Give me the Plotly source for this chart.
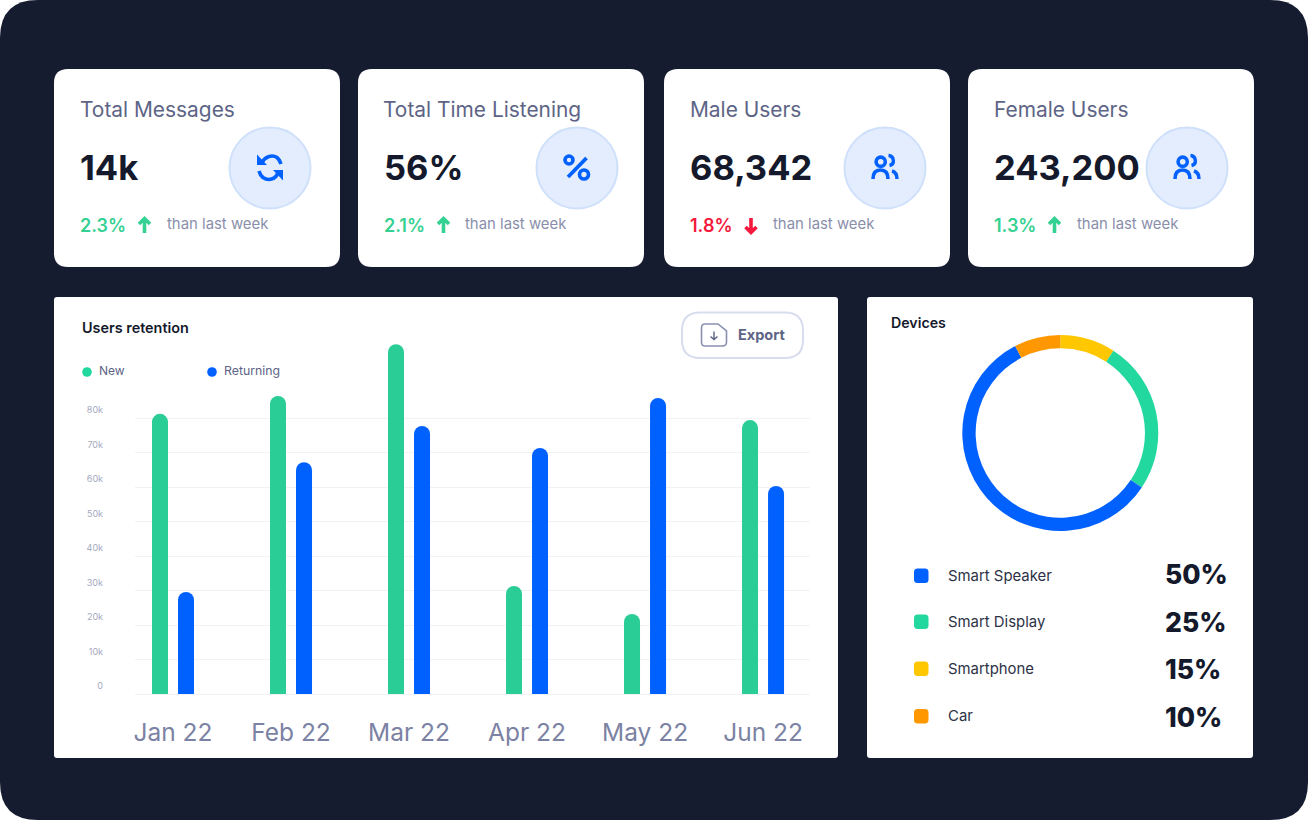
import re
import plotly.graph_objects as go

W, H = 1308, 820
FONT = "Inter"

# chart data
months = ["Jan 22", "Feb 22", "Mar 22", "Apr 22", "May 22", "Jun 22"]
new_users = [81200, 86400, 101400, 31300, 23200, 79400]
returning_users = [29600, 67200, 77700, 71300, 85800, 60300]
y_ticks = [0, 10000, 20000, 30000, 40000, 50000, 60000, 70000, 80000]
y_labels = ["0", "10k", "20k", "30k", "40k", "50k", "60k", "70k", "80k"]

device_names = ["Smart Speaker", "Smart Display", "Smartphone", "Car"]
device_share = ["50%", "25%", "15%", "10%"]
ring_names = ["Smartphone", "Smart Display", "Smart Speaker", "Car"]
ring_values = [9.1, 25.2, 57.9, 7.6]

card_titles = ["Total Messages", "Total Time Listening", "Male Users", "Female Users"]
card_values = ["14k", "56%", "68,342", "243,200"]
card_deltas = ["2.3%", "2.1%", "1.8%", "1.3%"]
card_up = [True, True, False, True]

# colours
DARK = "#161c2f"
INK = "#14192b"
GREEN = "#2bcd97"
RING_GREEN = "#22d89e"
BLUE = "#0061ff"
YELLOW = "#ffc700"
ORANGE = "#ff9800"
RED = "#f5173c"
DELTA_GREEN = "#35d192"
device_colors = [BLUE, RING_GREEN, YELLOW, ORANGE]
ring_colors = [YELLOW, RING_GREEN, BLUE, ORANGE]

# card layout, pixels
card_left = [54, 358, 664, 968]
icon_x = [270, 577, 885, 1187]
arrow_x = [144.5, 443.5, 751, 1054.5]
week_x = [167, 465, 773, 1077]
icon_kind = ["refresh", "percent", "people", "people"]
row_y = [575.5, 621.5, 668.5, 716]
share_y = [574, 622, 669, 716.5]


def fx(x):
    return x / W


def fy(y):
    return 1 - y / H


def to_paper(path, dx=0, dy=0):
    # path is written in pixels from the top left, shapes want paper coordinates
    nums = iter(range(10**6))

    def conv(m):
        v = float(m.group())
        if next(nums) % 2 == 0:
            return f"{fx(v + dx):.6f}"
        return f"{fy(v + dy):.6f}"

    return re.sub(r"-?\d+\.?\d*", conv, path)


def add_path(path, dx=0, dy=0, color=None, fill=None, width=0):
    fig.add_shape(
        type="path", xref="paper", yref="paper", path=to_paper(path, dx, dy),
        line=dict(color=color or "rgba(0,0,0,0)", width=width),
        fillcolor=fill or "rgba(0,0,0,0)", layer="below",
    )


def round_rect(x0, y0, x1, y1, r, fill, color=None, width=0):
    p = (f"M {x0 + r} {y0} L {x1 - r} {y0} Q {x1} {y0} {x1} {y0 + r} "
         f"L {x1} {y1 - r} Q {x1} {y1} {x1 - r} {y1} L {x0 + r} {y1} "
         f"Q {x0} {y1} {x0} {y1 - r} L {x0} {y0 + r} Q {x0} {y0} {x0 + r} {y0} Z")
    add_path(p, fill=fill, color=color, width=width)


def circle(cx, cy, r, fill, color=None, width=0):
    fig.add_shape(
        type="circle", xref="paper", yref="paper",
        x0=fx(cx - r), x1=fx(cx + r), y0=fy(cy + r), y1=fy(cy - r),
        fillcolor=fill, line=dict(color=color or "rgba(0,0,0,0)", width=width),
        layer="below",
    )


def label(x, y, text, size, color, weight=400, anchor="left"):
    fig.add_annotation(
        xref="paper", yref="paper", x=fx(x), y=fy(y), text=text, showarrow=False,
        xanchor=anchor, yanchor="middle", borderpad=0, borderwidth=0,
        font=dict(family=FONT, size=size, color=color, weight=weight),
    )


fig = go.Figure()

fig.add_trace(go.Bar(x=months, y=new_users, name="New", marker_color=GREEN, marker_line_width=0))
fig.add_trace(go.Bar(x=months, y=returning_users, name="Returning", marker_color=BLUE, marker_line_width=0))
fig.add_trace(go.Pie(
    labels=ring_names, values=ring_values, sort=False, direction="clockwise", rotation=0,
    hole=0.864, textinfo="none", marker=dict(colors=ring_colors, line=dict(width=0)),
    domain=dict(x=[fx(962.3), fx(1158.3)], y=[fy(531), fy(335)]),
    showlegend=False,
))

# backgrounds
round_rect(0, 0, W, H, 38, DARK)
for left in card_left:
    round_rect(left, 69, left + 286, 267, 14, "white")
round_rect(54, 297, 838, 758, 3, "white")
round_rect(867, 297, 1253, 758, 3, "white")

# stat cards
for i, title in enumerate(card_titles):
    left = card_left[i] + 26
    label(left - 0.5, 109, title, 20.9, "#5d6486")
    label(left, 168, card_values[i], 34.5, INK, 700)
    tone = DELTA_GREEN if card_up[i] else RED
    label(left, 225, card_deltas[i], 18, tone, 600)
    label(week_x[i], 223.5, "than last week", 14.9, "#8a8fab")

    ax = arrow_x[i]
    if card_up[i]:
        add_path(f"M {ax} 233 L {ax} 219 M {ax - 5.5} 224 L {ax} 218.5 L {ax + 5.5} 224", color=tone, width=3.6)
    else:
        add_path(f"M {ax} 218 L {ax} 232 M {ax - 5.5} 227 L {ax} 232.5 L {ax + 5.5} 227", color=tone, width=3.6)

    cx = icon_x[i]
    circle(cx, 168, 40.5, "#e3edfd", "#cfe0fb", 2)
    kind = icon_kind[i]
    if kind == "refresh":
        add_path("M 262 163 C 264 157 272 154 277 157.5 Q 280 160 281 164", color=BLUE, width=3.6)
        add_path("M 259 171 Q 260 175 263 177.5 C 268 181 276 180 278 172", color=BLUE, width=3.6)
        add_path("M 257 154.5 L 257 165 L 267 165 Z", fill=BLUE)
        add_path("M 283 180.5 L 283 170 L 273 170 Z", fill=BLUE)
    elif kind == "percent":
        circle(569, 160, 4, "rgba(0,0,0,0)", BLUE, 3.6)
        circle(584, 174.5, 4.5, "rgba(0,0,0,0)", BLUE, 3.6)
        add_path("M 568 177 L 586.5 158", color=BLUE, width=3.8)
    else:
        dx = cx - 885
        circle(880.7 + dx, 161.7, 4.6, "rgba(0,0,0,0)", BLUE, 3.6)
        add_path("M 888.5 155.5 C 894 156 895.5 164 889.5 165.5", dx=dx, color=BLUE, width=3.4)
        add_path("M 873 179 C 873 173 876 170 880.5 170 C 885 170 888 173 888 179", dx=dx, color=BLUE, width=3.6)
        add_path("M 892 171 Q 897 172.5 897 179", dx=dx, color=BLUE, width=3.4)

# retention panel
label(82, 327.5, "Users retention", 14.4, INK, 600)
circle(87, 372, 4.8, RING_GREEN)
label(99, 370.5, "New", 12, "#5d6486")
circle(212, 372, 4.8, BLUE)
label(224, 370.5, "Returning", 12.3, "#5d6486")

round_rect(682, 312.5, 803, 358, 18, "white", "#d8dcef", 2)
add_path("M 705 324 L 718 324 L 726.5 331 L 726.5 342 Q 726.5 346 722.5 346 L 705 346 "
         "Q 701.5 346 701.5 342 L 701.5 328 Q 701.5 324 705 324 Z", color="#8a90b0", width=1.6)
add_path("M 714 331.5 L 714 339 M 710.5 336.5 L 714 339.5 L 717.5 336.5", color="#5d6486", width=1.4)
label(738, 335, "Export", 14.5, "#5d6486", 700)

# devices panel
label(891, 322.5, "Devices", 14.2, INK, 600)
for i, name in enumerate(device_names):
    y = [576, 622, 669, 716.5][i]
    round_rect(914, y - 7.5, 928.5, y + 7, 3.5, device_colors[i])
    label(948, row_y[i], name, 14.9, "#2d3246")
    label(1165, share_y[i], device_share[i], 26.5, INK, 800)

fig.update_layout(
    width=W, height=H, margin=dict(l=0, r=0, t=0, b=0, autoexpand=False),
    paper_bgcolor="white", plot_bgcolor="rgba(0,0,0,0)",
    barmode="group", bargap=0.559, bargroupgap=0.385, barcornerradius=8,
    showlegend=False, hovermode=False,
    font=dict(family=FONT),
    xaxis=dict(
        domain=[fx(135), fx(810)], range=[-0.322, 5.398], type="category",
        showgrid=False, zeroline=False, showline=False, ticks="",
        ticklabelstandoff=21, tickfont=dict(family=FONT, size=24.5, color="#7c82a3"),
    ),
    yaxis=dict(
        domain=[fy(694), fy(340)], range=[0, 102609],
        tickmode="array", tickvals=y_ticks, ticktext=y_labels,
        showgrid=True, gridcolor="#f1f2f5", gridwidth=1,
        zeroline=True, zerolinecolor="#f1f2f5", zerolinewidth=1, showline=False, ticks="",
        ticklabelstandoff=31, ticklabelshift=-8,
        tickfont=dict(family=FONT, size=9, color="#a5a9c0"),
    ),
)

fig.write_html(
    "out.html", config={"displayModeBar": False},
    post_script="document.body.style.margin='0';document.body.style.overflow='hidden';",
)
